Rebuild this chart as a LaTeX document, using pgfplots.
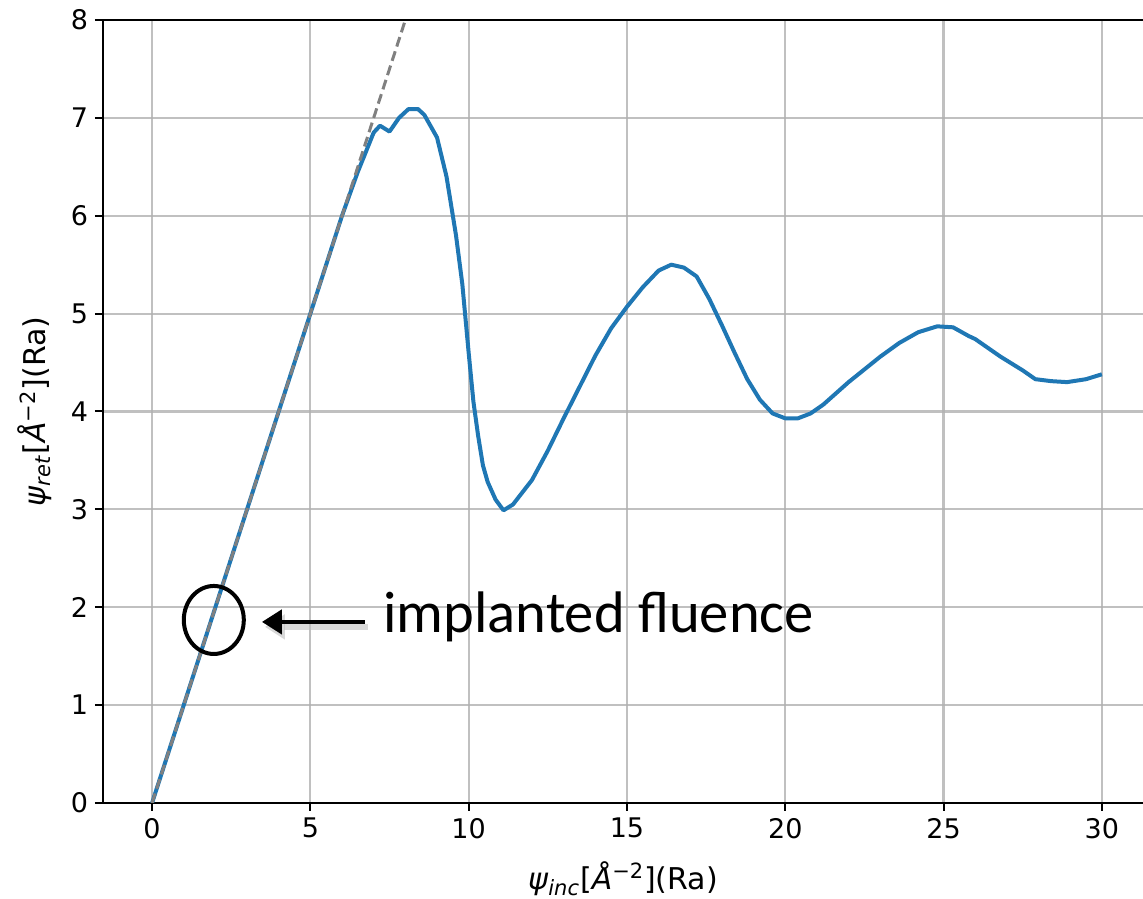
\documentclass[border=0pt]{standalone}
\usepackage{fontspec}
\setmainfont{DejaVu Sans}
\newfontfamily\carlito{Carlito}
\usepackage{pgfplots}
\pgfplotsset{compat=1.18}
\usetikzlibrary{calc,arrows.meta}
\definecolor{mplblue}{HTML}{1F77B4}
\definecolor{gridgray}{HTML}{B0B0B0}
\begin{document}
\begin{tikzpicture}
\begin{axis}[name=ax, scale only axis, width=520pt, height=391.5pt,
  xmin=-1.55, xmax=31.3, ymin=0, ymax=8,
  axis lines*=left, axis line style={-, black, line width=1pt},
  xtick={0,5,...,30}, ytick={0,1,...,8},
  tick align=outside, major tick length=4pt, tick style={black, line width=1pt},
  grid=major, major grid style={gridgray, line width=1.1pt, opacity=0.8},
  /pgf/number format/assume math mode=true,
  ticklabel style={font=\fontsize{13.5}{16}\selectfont},
  label style={font=\fontsize{15}{18}\selectfont},
  xlabel style={yshift=-4.5pt},
  ylabel style={yshift=2.5pt},
  xlabel={\textit{ψ}\textsubscript{\textit{inc}}[\textit{Å}\textsuperscript{−2}](Ra)},
  ylabel={\textit{ψ}\textsubscript{\textit{ret}}[\textit{Å}\textsuperscript{−2}](Ra)},
  clip=true,
]
\addplot[mplblue, line width=2pt, line join=round] coordinates {
(0,0) (1,1) (2,2) (3,3) (4,4) (5,5) (6,6) (6.5,6.45) (7.0,6.85) (7.2,6.92)
(7.5,6.86) (7.8,7.0) (8.1,7.09) (8.4,7.09) (8.6,7.03) (9.0,6.80) (9.3,6.40)
(9.6,5.8) (9.8,5.3) (10.0,4.6) (10.15,4.1) (10.3,3.75) (10.45,3.45) (10.6,3.28)
(10.85,3.1) (11.1,2.99) (11.4,3.05) (12.0,3.3) (12.5,3.6) (13.0,3.93) (13.5,4.25)
(14.0,4.57) (14.5,4.85) (15.0,5.07) (15.5,5.27) (16.0,5.44) (16.4,5.5) (16.8,5.47)
(17.2,5.38) (17.6,5.15) (18.0,4.88) (18.4,4.6) (18.8,4.33) (19.2,4.12) (19.6,3.98)
(20.0,3.93) (20.4,3.93) (20.8,3.98) (21.2,4.07) (22.0,4.3) (23.0,4.56) (23.6,4.70)
(24.2,4.81) (24.8,4.87) (25.3,4.86) (25.8,4.77) (26.0,4.74) (26.8,4.56) (27.5,4.42)
(27.9,4.33) (28.4,4.31) (28.9,4.30) (29.5,4.33) (30.0,4.38)
};
\addplot[gray, line width=1.5pt, dash pattern=on 5pt off 2.5pt] coordinates {(0,0) (8,8)};
\draw[line width=2pt] (axis cs:1.95,1.87) ellipse [x radius=15pt, y radius=17pt];
\draw[line width=3pt, black!25, opacity=0.6, -{Triangle[length=10pt,width=12pt]}]
  ([xshift=1.5pt,yshift=-2.5pt]axis cs:6.72,1.85) -- ([xshift=1.5pt,yshift=-2.5pt]axis cs:3.47,1.85);
\draw[line width=2.2pt, -{Triangle[length=10pt,width=12pt]}] (axis cs:6.72,1.85) -- (axis cs:3.47,1.85);
\node[anchor=base west, inner sep=0pt, font=\carlito\fontsize{29.3}{34}\selectfont] at (axis cs:7.29,1.74) {implanted fluence};
\end{axis}
\draw[black, line width=1pt] (ax.north west) -- (ax.north east);
\pgfresetboundingbox
\path[use as bounding box] ($(ax.south west)+(-51.5pt,-48pt)$) rectangle ($(ax.north east)+(0,10pt)$);
\end{tikzpicture}
\end{document}
